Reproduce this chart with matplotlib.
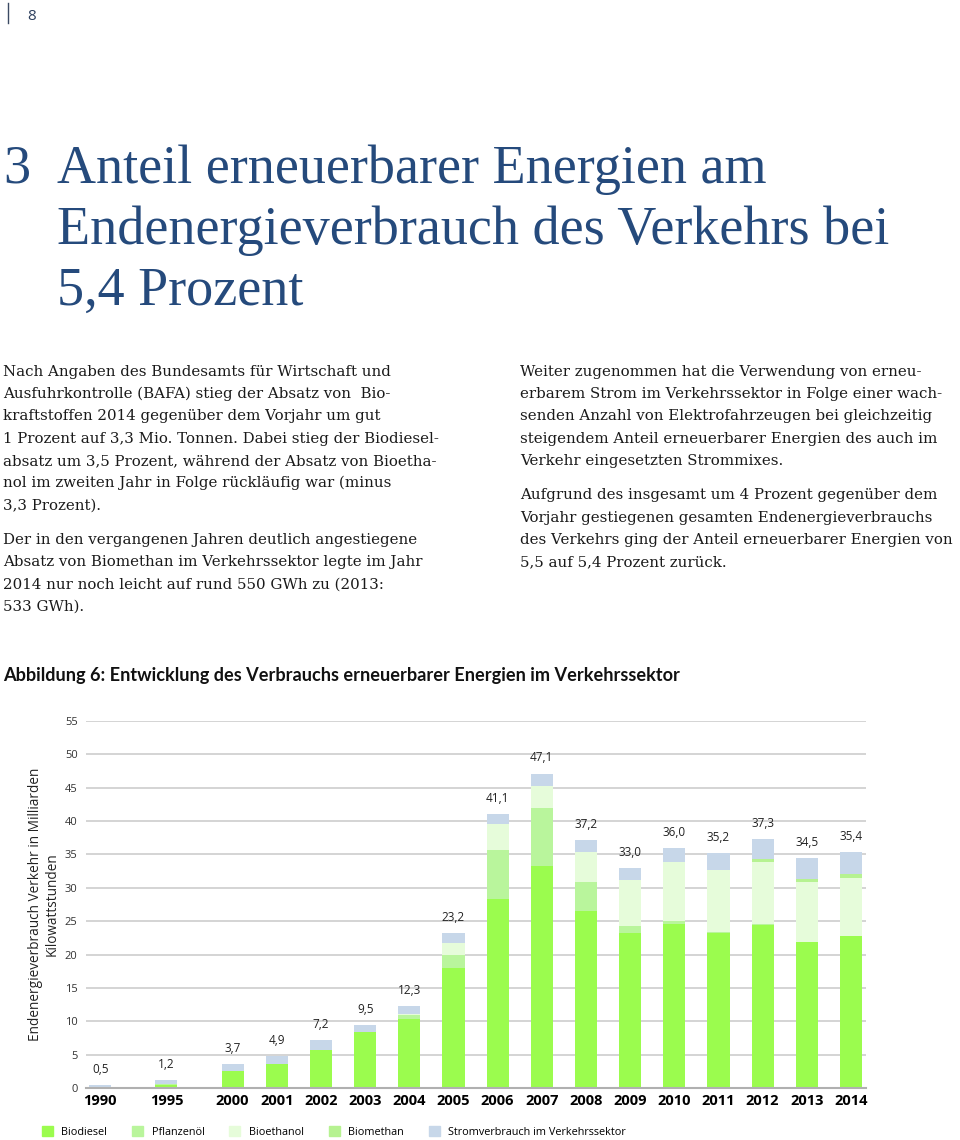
import numpy as np
import matplotlib
matplotlib.use("Agg")
import matplotlib.pyplot as plt
from matplotlib.patches import Patch
from matplotlib.lines import Line2D

years = ["1990", "1995", "2000", "2001", "2002", "2003", "2004", "2005", "2006",
         "2007", "2008", "2009", "2010", "2011", "2012", "2013", "2014"]
biodiesel = [0.0, 0.5, 2.6, 3.6, 5.7, 8.4, 10.4, 18.0, 28.3, 33.2, 26.6, 23.3, 24.6, 23.3, 24.5, 21.9, 22.8]
pflanzenoel = [0.0, 0.1, 0.0, 0.0, 0.0, 0.0, 0.5, 2.0, 7.4, 8.7, 4.2, 1.0, 0.4, 0.1, 0.1, 0.0, 0.0]
bioethanol = [0.0, 0.0, 0.0, 0.0, 0.0, 0.0, 0.2, 1.7, 3.9, 3.4, 4.6, 6.8, 8.8, 9.2, 9.3, 8.9, 8.6]
biomethan = [0.0, 0.0, 0.0, 0.0, 0.0, 0.0, 0.0, 0.0, 0.0, 0.0, 0.0, 0.0, 0.0, 0.0, 0.4, 0.5, 0.6]
strom = [0.5, 0.6, 1.1, 1.3, 1.5, 1.1, 1.2, 1.5, 1.5, 1.8, 1.8, 1.9, 2.2, 2.6, 3.0, 3.2, 3.4]
totals = ["0,5", "1,2", "3,7", "4,9", "7,2", "9,5", "12,3", "23,2", "41,1",
          "47,1", "37,2", "33,0", "36,0", "35,2", "37,3", "34,5", "35,4"]

series = [("Biodiesel", biodiesel, "#9bfc4e"),
          ("Pflanzenöl", pflanzenoel, "#b9f59c"),
          ("Bioethanol", bioethanol, "#e6fcda"),
          ("Biomethan", biomethan, "#b6f291"),
          ("Stromverbrauch im Verkehrssektor", strom, "#c7d7e9")]

W, H = 960, 1140
fig = plt.figure(figsize=(W / 100, H / 100), dpi=100)


def fx(x):
    return x / W


def fy(y):
    return 1 - y / H


blue = "#254a7c"
serif = "Liberation Serif"
sans = "Open Sans"

# header
fig.add_artist(Line2D([fx(8), fx(8)], [fy(3), fy(23)], color="#3b4a63", lw=1))
fig.text(fx(27), fy(16), "8", fontsize=11, color="#2c3e5c", family=sans, va="center")

# title
fig.text(fx(3), fy(183), "3", fontsize=39, color=blue, family=serif, va="baseline")
title = ["Anteil erneuerbarer Energien am",
         "Endenergieverbrauch des Verkehrs bei",
         "5,4 Prozent"]
for i, line in enumerate(title):
    fig.text(fx(57), fy(183 + 61 * i), line, fontsize=39, color=blue,
             family=serif, va="baseline")

left_col = ["Nach Angaben des Bundesamts für Wirtschaft und",
            "Ausfuhrkontrolle (BAFA) stieg der Absatz von  Bio-",
            "kraftstoffen 2014 gegenüber dem Vorjahr um gut",
            "1 Prozent auf 3,3 Mio. Tonnen. Dabei stieg der Biodiesel-",
            "absatz um 3,5 Prozent, während der Absatz von Bioetha-",
            "nol im zweiten Jahr in Folge rückläufig war (minus",
            "3,3 Prozent).",
            None,
            "Der in den vergangenen Jahren deutlich angestiegene",
            "Absatz von Biomethan im Verkehrssektor legte im Jahr",
            "2014 nur noch leicht auf rund 550 GWh zu (2013:",
            "533 GWh)."]
right_col = ["Weiter zugenommen hat die Verwendung von erneu-",
             "erbarem Strom im Verkehrssektor in Folge einer wach-",
             "senden Anzahl von Elektrofahrzeugen bei gleichzeitig",
             "steigendem Anteil erneuerbarer Energien des auch im",
             "Verkehr eingesetzten Strommixes.",
             None,
             "Aufgrund des insgesamt um 4 Prozent gegenüber dem",
             "Vorjahr gestiegenen gesamten Endenergieverbrauchs",
             "des Verkehrs ging der Anteil erneuerbarer Energien von",
             "5,5 auf 5,4 Prozent zurück."]


def column(lines, x0):
    y = 376
    for line in lines:
        if line is None:
            y += 12.5
            continue
        fig.text(fx(x0), fy(y), line, fontsize=10.8, color="#1a1a1a",
                 family="DejaVu Serif", va="baseline")
        y += 22.2


column(left_col, 3)
column(right_col, 520)

fig.text(fx(3), fy(681), "Abbildung 6: Entwicklung des Verbrauchs erneuerbarer Energien im Verkehrssektor",
         fontsize=13.1, weight="bold", family="Lato", color="#111111", va="baseline")

# chart
ax = fig.add_axes([fx(86), fy(1088.3), fx(866) - fx(86), fy(720.7) - fy(1088.3)])
pos = np.arange(len(years), dtype=float)
pos[1:] += 0.5
pos[2:] += 0.5

bottom = np.zeros(len(years))
for name, vals, col in series:
    ax.bar(pos, vals, 0.5, bottom=bottom, color=col, label=name, zorder=2)
    bottom += np.array(vals)

for x, top, lab in zip(pos, bottom, totals):
    ax.annotate(lab, (x, top), xytext=(0, 6.5), textcoords="offset points",
                ha="center", va="bottom", fontsize=8.5, family=sans, color="#222222")

ax.set_xlim(pos[0] - 0.32, pos[-1] + 0.34)
ax.set_ylim(0, 55)
ax.set_yticks(np.arange(0, 56, 5))
ax.yaxis.grid(True, color="#c9c9c9", lw=1.1, zorder=0)
ax.set_xticks(pos)
ax.set_xticklabels(years, fontsize=10.5, weight="bold", family=sans)
for s in ["top", "right", "left"]:
    ax.spines[s].set_visible(False)
ax.spines["bottom"].set_color("#b0b0b0")
ax.spines["bottom"].set_linewidth(1.5)
ax.tick_params(axis="both", length=0)
ax.tick_params(axis="y", labelsize=8, labelcolor="#333333", pad=6)
ax.tick_params(axis="x", pad=4)
for t in ax.get_yticklabels():
    t.set_family(sans)
ax.set_ylabel("Endenergieverbrauch Verkehr in Milliarden\nKilowattstunden",
              fontsize=9.8, family=sans, color="#222222", labelpad=4, linespacing=1.15)

handles = [Patch(color=c) for _, _, c in series]
labels = [n for n, _, _ in series]
fig.legend(handles, labels, loc="center left", bbox_to_anchor=(fx(32), fy(1132)),
           ncol=5, frameon=False, handlelength=1.0, handleheight=1.0,
           handletextpad=0.8, columnspacing=2.3, prop={"family": sans, "size": 7.8})

fig.savefig("out.png", dpi=100)
